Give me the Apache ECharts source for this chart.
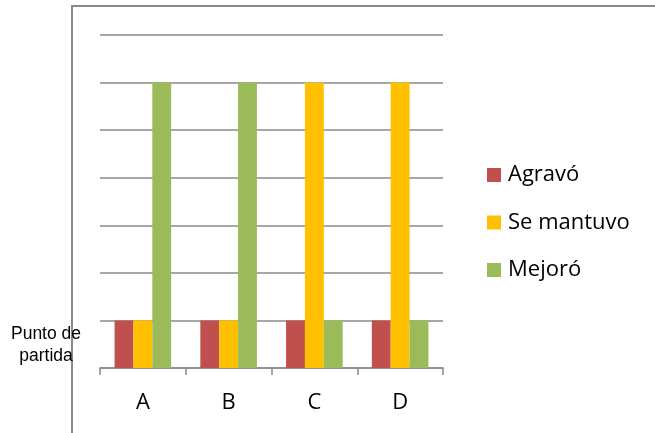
<!DOCTYPE html>
<html>
<head>
<meta charset="utf-8">
<script src="https://cdn.jsdelivr.net/npm/echarts@6/dist/echarts.min.js"></script>
<style>
  html, body { margin: 0; padding: 0; background: #fff; }
  #chart { width: 655px; height: 433px; }
</style>
</head>
<body>
<div id="chart"></div>
<script>
// Categories and the three outcome series (levels relative to the starting point)
var categories = ['A', 'B', 'C', 'D'];
var agravo = [1, 1, 1, 1];
var seMantuvo = [1, 1, 6, 6];
var mejoro = [6, 6, 1, 1];
var seriesNames = ['Agravó', 'Se mantuvo', 'Mejoró'];
var baselineLabel = 'Punto de\npartida';

var colors = ['#C0504D', '#FFC000', '#9BBB59'];

var chart = echarts.init(document.getElementById('chart'), null, { renderer: 'canvas' });

function barSeries(name, data, color) {
  return {
    name: name,
    type: 'bar',
    data: data,
    barGap: '0%',
    barCategoryGap: '34%',
    itemStyle: { color: color },
    emphasis: { disabled: true }
  };
}

chart.setOption({
  animation: false,
  color: colors,
  grid: { left: 100, right: 212, top: 35, bottom: 65, containLabel: false },
  graphic: [
    {
      type: 'rect',
      shape: { x: 72, y: 6, width: 700, height: 500 },
      style: { fill: 'none', stroke: '#8a8a8a', lineWidth: 2 },
      silent: true,
      z: -1
    },
    {
      type: 'text',
      x: 46,
      y: 345,
      style: {
        text: baselineLabel,
        textAlign: 'center',
        textVerticalAlign: 'middle',
        fontFamily: 'Liberation Sans, Arial, sans-serif',
        fontSize: 17.5,
        lineHeight: 22,
        fill: '#000'
      },
      silent: true
    }
  ],
  legend: {
    orient: 'vertical',
    left: 487,
    top: 164,
    padding: 0,
    itemWidth: 14,
    itemHeight: 14,
    itemGap: 25.5,
    icon: 'rect',
    data: seriesNames,
    textStyle: {
      fontFamily: '"Open Sans", "Noto Sans", sans-serif',
      fontSize: 22,
      lineHeight: 20,
      color: '#000',
      padding: [0, 0, 0, 2]
    }
  },
  xAxis: {
    type: 'category',
    data: categories,
    axisLine: { lineStyle: { color: '#8a8a8a', width: 1.5 } },
    axisTick: { show: true, length: 7, lineStyle: { color: '#8a8a8a', width: 1.5 } },
    axisLabel: {
      margin: 24,
      fontFamily: '"Open Sans", "Noto Sans", sans-serif',
      fontSize: 22,
      color: '#000'
    }
  },
  yAxis: {
    type: 'value',
    min: 0,
    max: 7,
    interval: 1,
    axisLine: { show: false },
    axisTick: { show: false },
    axisLabel: { show: false },
    splitLine: { lineStyle: { color: '#8a8a8a', width: 1.5 } }
  },
  series: [
    barSeries(seriesNames[0], agravo, colors[0]),
    barSeries(seriesNames[1], seMantuvo, colors[1]),
    barSeries(seriesNames[2], mejoro, colors[2])
  ]
});
</script>
</body>
</html>
